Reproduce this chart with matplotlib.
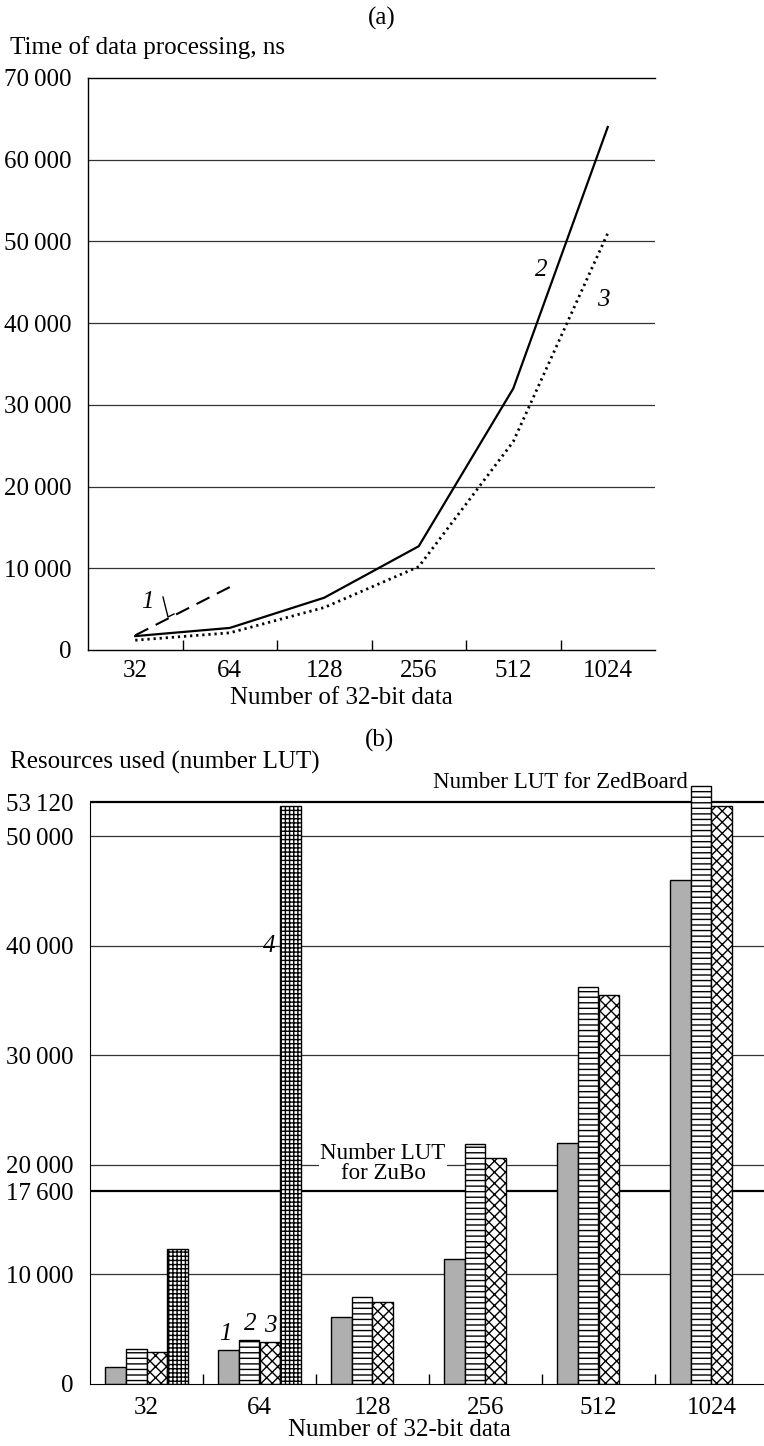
import matplotlib.pyplot as plt
import numpy as np

plt.rcParams['font.family'] = ['Liberation Serif', 'DejaVu Serif']
plt.rcParams['font.size'] = 18
plt.rcParams['hatch.linewidth'] = 1.0

sizes = ['32', '64', '128', '256', '512', '1024']

# (a) processing time, ns
time_1 = [1800, 7700]
time_2 = [1700, 2700, 6400, 12700, 32000, 64000]
time_3 = [1200, 2100, 5200, 10200, 25500, 51000]

# (b) LUT usage
lut_1 = [1550, 3100, 6100, 11400, 22000, 46000]
lut_2 = [3200, 4000, 7900, 21900, 36200, 54600]
lut_3 = [2900, 3800, 7500, 20600, 35500, 52800]
lut_4 = [12300, 52800]

lut_zedboard = 53120
lut_zubo = 17600

top_grid = [10000, 20000, 30000, 40000, 50000, 60000]
bot_grid = [10000, 20000, 30000, 40000, 50000]


def fmt(v):
    return f'{v:,}'.replace(',', '\u2009')


fig = plt.figure(figsize=(7.64, 14.46), dpi=100)
W, H = 764, 1446

# ---------------- (a) ----------------
ax1 = fig.add_axes([88 / W, 1 - 650 / H, 567 / W, 572 / H])
x = np.arange(len(sizes)) + 0.5
ax1.set_xlim(0, 6)
ax1.set_ylim(0, 70000)
for g in top_grid:
    ax1.axhline(g, color='#333333', lw=0.9, zorder=1)

ax1.plot(x[:len(time_1)], time_1, color='black', lw=1.5, dashes=(7, 4), zorder=3)
ax1.plot(x, time_2, color='black', lw=1.6, zorder=3)
ax1.plot(x, time_3, color='black', lw=2.0, linestyle=(0, (0.8, 1.4)), zorder=3)

ax1.text((147 - 88) / 94.5, (650 - 602) / 81.7 * 10000, '1', style='italic',
         ha='center', va='center')
ax1.plot([(163 - 88) / 94.5, (168 - 88) / 94.5, (174 - 88) / 94.5],
         [(650 - 597) / 81.7 * 10000, (650 - 617) / 81.7 * 10000, (650 - 614) / 81.7 * 10000],
         color='black', lw=1.0)
ax1.text((541 - 88) / 94.5, (650 - 270) / 81.7 * 10000, '2', style='italic',
         ha='center', va='center')
ax1.text((603 - 88) / 94.5, (650 - 300) / 81.7 * 10000, '3', style='italic',
         ha='center', va='center')

ax1.spines['right'].set_visible(False)
for s in ax1.spines.values():
    s.set_linewidth(1.0)
ax1.set_yticks(np.arange(0, 70001, 10000))
ax1.set_yticklabels([fmt(v) for v in range(0, 70001, 10000)])
ax1.tick_params(axis='y', length=0, pad=12)
ax1.set_xticks(np.arange(1, 6))
ax1.set_xticklabels([])
ax1.set_xticks(x, labels=sizes, minor=True)
ax1.tick_params(axis='x', which='major', direction='in', length=7, width=1.0)
ax1.tick_params(axis='x', which='minor', length=0, pad=7)

fig.text(382 / W, 1 - 18 / H, '(a)', ha='center', va='center')
fig.text(10 / W, 1 - 48 / H, 'Time of data processing, ns', ha='left', va='center')
fig.text(341 / W, 1 - 698 / H, 'Number of 32-bit data', ha='center', va='center')

# ---------------- (b) ----------------
ax2 = fig.add_axes([90 / W, 1 - 1384 / H, 674 / W, 608 / H])
ax2.set_xlim(0, 674 / 113)
ax2.set_ylim(0, 55500)
for g in bot_grid:
    ax2.axhline(g, color='#333333', lw=0.9, zorder=1)
ax2.axhline(lut_zedboard, color='black', lw=1.6, zorder=1)
ax2.axhline(lut_zubo, color='black', lw=1.6, zorder=1)

bw = 0.1835
start = x - 2 * bw
n = len(sizes)
ax2.bar(start[:n] + 0.5 * bw, lut_1, bw, color='#afafaf', edgecolor='black', lw=1.0, zorder=2)
ax2.bar(start[:n] + 1.5 * bw, lut_2, bw, color='white', edgecolor='black', lw=1.0,
        hatch='---', zorder=2)
ax2.bar(start[:n] + 2.5 * bw, lut_3, bw, color='white', edgecolor='black', lw=1.0,
        hatch='xxx', zorder=2)
ax2.bar(start[:len(lut_4)] + 3.5 * bw, lut_4, bw, color='white', edgecolor='black', lw=1.0,
        hatch='++++', zorder=2)

ax2.text(start[1] + 0.35 * bw, lut_1[1] + 1500, '1', style='italic', ha='center', va='center', zorder=4)
ax2.text(start[1] + 1.55 * bw, lut_2[1] + 1500, '2', style='italic', ha='center', va='center', zorder=4)
ax2.text(start[1] + 2.5 * bw, lut_3[1] + 1500, '3', style='italic', ha='center', va='center', zorder=4)
ax2.text(start[1] + 2.45 * bw, 40000, '4', style='italic', ha='center', va='center', zorder=4)

ax2.text((688 - 90) / 113, (1384 - 782) / 109.6 * 10000, 'Number LUT for ZedBoard',
         ha='right', va='center', fontsize=16.5, zorder=1)
ax2.text((383 - 90) / 113, (1384 - 1163) / 109.6 * 10000, 'Number LUT\nfor ZuBo',
         ha='center', va='center', fontsize=16.5, linespacing=0.95, zorder=1.5,
         bbox=dict(facecolor='white', edgecolor='none', pad=1))

ax2.spines['top'].set_visible(False)
ax2.spines['right'].set_visible(False)
ax2.spines['left'].set_bounds(0, lut_zedboard)
yt = [0, 10000, lut_zubo, 20000, 30000, 40000, 50000, lut_zedboard]
ax2.set_yticks(yt)
ax2.set_yticklabels([fmt(v) for v in yt])
ax2.tick_params(axis='y', length=0, pad=12)
ax2.set_xticks(np.arange(1, 6))
ax2.set_xticklabels([])
ax2.set_xticks(x, labels=sizes, minor=True)
ax2.tick_params(axis='x', which='major', direction='in', length=7, width=1.0)
ax2.tick_params(axis='x', which='minor', length=0, pad=9)

fig.text(380 / W, 1 - 740 / H, '(b)', ha='center', va='center')
fig.text(10 / W, 1 - 762 / H, 'Resources used (number LUT)', ha='left', va='center')
fig.text(399 / W, 1 - 1430 / H, 'Number of 32-bit data', ha='center', va='center')

fig.savefig('out.png', dpi=100)
